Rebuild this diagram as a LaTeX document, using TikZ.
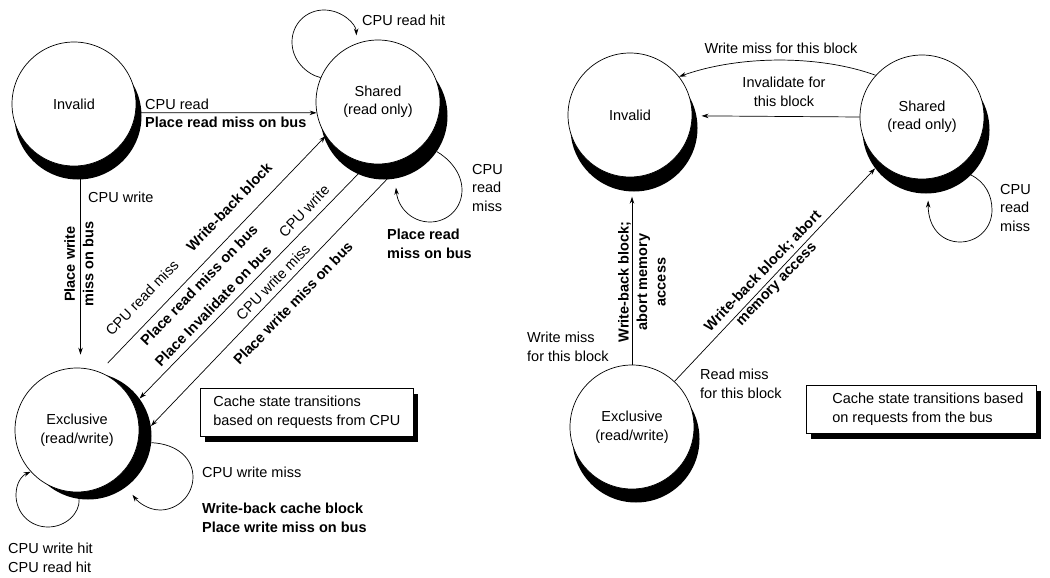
\documentclass[tikz,border=0pt]{standalone}
\usepackage{fontspec}
\setmainfont{Liberation Sans}
\usetikzlibrary{arrows.meta,shadows}
\begin{document}
\begin{tikzpicture}[x=1pt,y=-1pt,
  font=\fontsize{14.5}{18.5}\selectfont,
  st/.style={circle,draw,line width=0.7pt,fill=white,minimum size=124pt,inner sep=0pt,align=center},
  sh/.style={circle,fill=black,minimum size=127pt,inner sep=0pt},
  arr/.style={line width=0.7pt,-{Stealth[length=7pt,width=4.5pt]}},
  lab/.style={inner sep=0pt},
  bl/.style={inner sep=0pt,font=\fontsize{14.5}{18.5}\selectfont\bfseries},
  box/.style={draw,line width=0.7pt,fill=white,align=left,inner xsep=13pt,inner ysep=8pt,
    drop shadow={shadow xshift=5pt,shadow yshift=-6pt,fill=black,opacity=1}}
]
\useasboundingbox (0,0) rectangle (1050,578);
\fill[white] (0,0) rectangle (1050,578);

% ---------- left diagram: states ----------
\node[sh] (invLs) at (78,116) {};
\node[st] (invL) at (74,104) {Invalid};
\node[sh] (shrLs) at (384,116) {};
\node[st] (shrL) at (378,102) {Shared\\(read only)};
\node[sh] (excLs) at (88,436) {};
\node[st] (excL) at (77,430) {Exclusive\\(read/write)};

% ---------- left diagram: transitions ----------
\draw[arr] (invL.-8) -- (shrL.190);
\draw[arr,shorten >=13pt] (invL.-84) -- (invL.-84 |- excL.north);
\draw[arr,shorten <=12pt] (excL.69) -- (shrL.213);
\draw[arr] (shrL.261) -- (excLs.36);
\draw[arr] (shrL.300) -- (excLs.9);
\draw[arr,shorten >=8pt] (shrL.157) .. controls (306,74) and (292,60) .. (292,42)
  .. controls (292,24) and (306,10) .. (324,10)
  .. controls (342,10) and (356,24) .. (shrL.110);
\draw[arr,shorten >=9pt] (shrLs.-34) .. controls (448,158) and (462,172) .. (462,190)
  .. controls (462,208) and (448,222) .. (430,222)
  .. controls (412,222) and (398,208) .. (shrLs.-80);
\draw[arr,shorten >=10pt] (excLs.-6) .. controls (178,444) and (193,459) .. (193,477)
  .. controls (193,495) and (178,510) .. (160,510)
  .. controls (148,510) and (138,502) .. (excLs.-53);
\draw[arr] (excLs.262) .. controls (80,513) and (66,527) .. (48,527)
  .. controls (30,527) and (16,513) .. (16,495)
  .. controls (16,484) and (21,476) .. (excL.222);

% ---------- left diagram: labels ----------
\node[lab,anchor=base west] (l1) at (145,110) {CPU read};
\node[bl,anchor=base west] (l2) at (145,128) {Place read miss on bus};
\node[lab,anchor=base west] (l3) at (88,202) {CPU write};
\node[bl,rotate=90,align=center] (l4) at (79,264) {Place write\\miss on bus};
\node[lab,anchor=base west] (l5) at (362,26) {CPU read hit};
\node[lab,anchor=west,align=left] (l6) at (472,188) {CPU\\read\\miss};
\node[bl,anchor=west,align=left] (l7) at (387,244) {Place read\\miss on bus};
\node[lab,anchor=base west] (l8) at (202,477) {CPU write miss};
\node[bl,anchor=west,align=left] (l9) at (202,518) {Write-back cache block\\Place write miss on bus};
\node[lab,anchor=west,align=left] (l10) at (8,558) {CPU write hit\\CPU read hit};
\node[lab,rotate=46] (d1) at (142,298) {CPU read miss};
\node[bl,rotate=46] (d2) at (229,207) {Write-back block};
\node[bl,rotate=46] (d3) at (199,285) {Place read miss on bus};
\node[bl,rotate=46] (d4) at (213,306) {Place Invalidate on bus};
\node[lab,rotate=46] (d5) at (304,211) {CPU write};
\node[lab,rotate=46] (d6) at (273,282) {CPU write miss};
\node[bl,rotate=46] (d7) at (293,303) {Place write miss on bus};
\node[box,anchor=north west] (bxL) at (200,388) {Cache state transitions\\based on requests from CPU};

% ---------- right diagram: states ----------
\node[sh] (invRs) at (634,128) {};
\node[st] (invR) at (630,115) {Invalid};
\node[sh] (shrRs) at (926,130) {};
\node[st] (shrR) at (922,117) {Shared\\(read only)};
\node[sh] (excRs) at (636,439) {};
\node[st] (excR) at (632,427) {Exclusive\\(read/write)};

% ---------- right diagram: transitions ----------
\draw[arr] (shrR.138) .. controls (820,55) and (740,55) .. (invR.38);
\draw[arr,shorten >=5pt] (shrR.180) -- (invRs.11);
\draw[arr,shorten >=5pt] (excR.north) -- (excR.north |- invRs.south);
\draw[arr] (excR.47) -- (shrRs.217);
\draw[arr,shorten >=7pt] (shrRs.-45) .. controls (985,182) and (992,195) .. (992,210)
  .. controls (992,228) and (978,242) .. (960,242)
  .. controls (942,242) and (928,228) .. (shrRs.-88);

% ---------- right diagram: labels ----------
\node[lab] (r1) at (781,48) {Write miss for this block};
\node[lab,align=center] (r2) at (784,92) {Invalidate for\\this block};
\node[bl,rotate=90,align=center] (r3) at (642,282) {Write-back block;\\abort memory\\access};
\node[lab,anchor=west,align=left] (r4) at (527,347) {Write miss\\for this block};
\node[bl,rotate=46,align=center] (r5) at (770,278) {Write-back block; abort\\memory access};
\node[lab,anchor=west,align=left] (r6) at (700,384) {Read miss\\for this block};
\node[lab,anchor=west,align=left] (r7) at (1000,208) {CPU\\read\\miss};
\node[box,anchor=north west] (bxR) at (806,385) {\hspace*{13pt}Cache state transitions based\\\hspace*{13pt}on requests from the bus};
\end{tikzpicture}
\end{document}
